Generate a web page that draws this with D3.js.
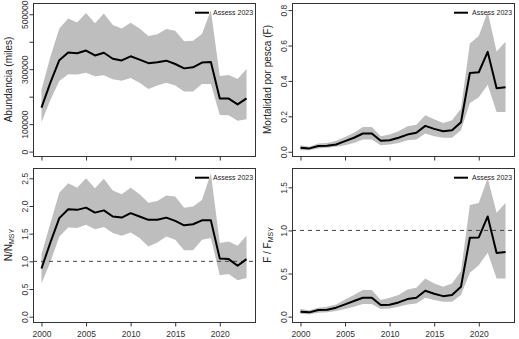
<!DOCTYPE html>
<html>
<head>
<meta charset="utf-8">
<script src="https://cdn.jsdelivr.net/npm/d3@7"></script>
<style>
  body { margin: 0; background: #fff; }
  svg { display: block; font-family: "Liberation Sans", Arial, sans-serif; }
</style>
</head>
<body>
<svg id="chart" width="519" height="339"></svg>
<script>
// assessment years
var years = [2000, 2001, 2002, 2003, 2004, 2005, 2006, 2007, 2008, 2009, 2010, 2011,
             2012, 2013, 2014, 2015, 2016, 2017, 2018, 2019, 2020, 2021, 2022, 2023];

// abundance (thousands) with interval
var abund   = [160000, 251000, 333000, 361000, 358000, 368000, 350000, 360000, 338000, 332000, 347000, 335000,
               322000, 325000, 331000, 319000, 303000, 307000, 324000, 326000, 193000, 193000, 172000, 194000];
var abundLo = [107000, 188000, 257000, 282000, 281000, 287000, 274000, 278000, 263000, 258000, 268000, 251000,
               228000, 241000, 251000, 241000, 219000, 219000, 246000, 246000, 133000, 132000, 112000, 118000];
var abundHi = [224000, 345000, 448000, 485000, 470000, 505000, 467000, 503000, 461000, 448000, 469000, 448000,
               421000, 427000, 446000, 440000, 402000, 404000, 428000, 515000, 275000, 279000, 264000, 301000];

// fishing mortality F
var fMort   = [0.022, 0.019, 0.032, 0.034, 0.041, 0.060, 0.079, 0.103, 0.103, 0.062, 0.065, 0.079,
               0.097, 0.107, 0.146, 0.129, 0.116, 0.121, 0.166, 0.445, 0.449, 0.564, 0.359, 0.364];
var fMortLo = [0.009, 0.009, 0.019, 0.022, 0.028, 0.037, 0.050, 0.069, 0.069, 0.037, 0.041, 0.050,
               0.065, 0.069, 0.103, 0.088, 0.079, 0.079, 0.121, 0.275, 0.308, 0.378, 0.224, 0.224];
var fMortHi = [0.037, 0.028, 0.047, 0.050, 0.062, 0.084, 0.107, 0.140, 0.140, 0.088, 0.097, 0.116,
               0.144, 0.153, 0.206, 0.183, 0.163, 0.178, 0.243, 0.611, 0.654, 0.790, 0.566, 0.621];

// N / N_MSY
var nRel    = [0.87, 1.34, 1.78, 1.94, 1.93, 1.97, 1.88, 1.92, 1.81, 1.79, 1.87, 1.81,
               1.75, 1.75, 1.79, 1.73, 1.65, 1.67, 1.74, 1.74, 1.05, 1.04, 0.92, 1.04];
var nRelLo  = [0.60, 0.99, 1.45, 1.61, 1.60, 1.66, 1.58, 1.62, 1.51, 1.46, 1.52, 1.42,
               1.27, 1.34, 1.45, 1.39, 1.20, 1.20, 1.39, 1.42, 0.75, 0.77, 0.66, 0.70];
var nRelHi  = [1.13, 1.69, 2.24, 2.41, 2.33, 2.50, 2.32, 2.49, 2.28, 2.21, 2.33, 2.21,
               2.06, 2.09, 2.19, 2.17, 1.97, 1.99, 2.11, 2.59, 1.33, 1.36, 1.28, 1.46];

// F / F_MSY
var fRel    = [0.058, 0.050, 0.077, 0.081, 0.104, 0.142, 0.181, 0.219, 0.219, 0.135, 0.138, 0.165,
               0.204, 0.219, 0.300, 0.265, 0.238, 0.250, 0.346, 0.915, 0.919, 1.162, 0.738, 0.750];
var fRelLo  = [0.031, 0.027, 0.046, 0.050, 0.065, 0.088, 0.115, 0.146, 0.146, 0.088, 0.096, 0.115,
               0.142, 0.154, 0.219, 0.192, 0.173, 0.173, 0.250, 0.508, 0.596, 0.742, 0.442, 0.442];
var fRelHi  = [0.088, 0.073, 0.104, 0.115, 0.142, 0.200, 0.250, 0.308, 0.308, 0.192, 0.219, 0.250,
               0.315, 0.335, 0.442, 0.385, 0.346, 0.385, 0.527, 1.296, 1.319, 1.604, 1.204, 1.319];

// ticks
var xTicks      = [2000, 2005, 2010, 2015, 2020];
var abundTicks  = [0, 100000, 200000, 300000, 400000, 500000];
var abundLabels = [0, 100000, 300000, 500000];
var fMortTicks  = [0, 0.2, 0.4, 0.6, 0.8];
var nRelTicks   = [0, 0.5, 1, 1.5, 2, 2.5];
var fRelTicks   = [0, 0.5, 1, 1.5];
var legendText  = "Assess 2023";

var svg = d3.select("#chart");

var cols = [[33, 255], [292, 514]];
var rows = [[3, 156], [168, 322]];
var xDomain = [1999.05, 2023.95];

var panels = [
  {col: 0, row: 0, mid: abund, lo: abundLo, hi: abundHi, yDomain: [-16000, 541000],
   yTicks: abundTicks, yShow: abundLabels, fmt: d3.format("d"), title: ["Abundancia (miles)"]},
  {col: 1, row: 0, mid: fMort, lo: fMortLo, hi: fMortHi, yDomain: [-0.024, 0.84],
   yTicks: fMortTicks, yShow: fMortTicks, fmt: d3.format(".1f"), title: ["Mortalidad por pesca (F)"]},
  {col: 0, row: 1, mid: nRel, lo: nRelLo, hi: nRelHi, yDomain: [-0.096, 2.686], ref: 1,
   yTicks: nRelTicks, yShow: nRelTicks, fmt: d3.format(".1f"), title: ["N/N", "MSY"]},
  {col: 1, row: 1, mid: fRel, lo: fRelLo, hi: fRelHi, yDomain: [-0.062, 1.724], ref: 1,
   yTicks: fRelTicks, yShow: fRelTicks, fmt: d3.format(".1f"), title: ["F / F", "MSY"]}
];

panels.forEach(function(p) {
  var left = cols[p.col][0], right = cols[p.col][1];
  var top = rows[p.row][0], bottom = rows[p.row][1];

  var x = d3.scaleLinear().domain(xDomain).range([left, right]);
  var y = d3.scaleLinear().domain(p.yDomain).range([bottom, top]);

  var g = svg.append("g");

  // confidence band
  var band = d3.area()
    .x(function(d) { return x(d); })
    .y0(function(d, i) { return y(p.lo[i]); })
    .y1(function(d, i) { return y(p.hi[i]); });
  g.append("path")
    .datum(years)
    .attr("d", band)
    .attr("fill", "#bebebe");

  // reference level
  if (p.ref != null) {
    g.append("line")
      .attr("x1", left).attr("x2", right)
      .attr("y1", y(p.ref)).attr("y2", y(p.ref))
      .attr("stroke", "#444")
      .attr("stroke-width", 1)
      .attr("stroke-dasharray", "4,4");
  }

  // estimate
  var line = d3.line()
    .x(function(d) { return x(d); })
    .y(function(d, i) { return y(p.mid[i]); });
  g.append("path")
    .datum(years)
    .attr("d", line)
    .attr("fill", "none")
    .attr("stroke", "#000")
    .attr("stroke-width", 2)
    .attr("stroke-linejoin", "round");

  // frame
  g.append("rect")
    .attr("x", left + 0.5).attr("y", top + 0.5)
    .attr("width", right - left).attr("height", bottom - top)
    .attr("fill", "none")
    .attr("stroke", "#333")
    .attr("stroke-width", 1);

  // y axis, labels turned vertical
  var yAxis = g.append("g")
    .attr("transform", "translate(" + (left + 0.5) + ",0)")
    .call(d3.axisLeft(y)
      .tickValues(p.yTicks)
      .tickSize(4)
      .tickSizeOuter(0)
      .tickFormat(function(d) { return p.yShow.indexOf(d) >= 0 ? p.fmt(d) : ""; }));
  yAxis.select(".domain").remove();
  yAxis.attr("font-family", null).attr("font-size", 8.5).attr("color", "#333");
  yAxis.selectAll("text")
    .attr("x", 0).attr("dy", 0)
    .attr("text-anchor", "middle")
    .attr("transform", "translate(-6,0) rotate(-90)")
    .attr("fill", "#333");

  // x axis
  var xAxis = g.append("g")
    .attr("transform", "translate(0," + (bottom + 0.5) + ")")
    .call(d3.axisBottom(x)
      .tickValues(xTicks)
      .tickSize(4)
      .tickSizeOuter(0)
      .tickFormat(p.row == 1 ? d3.format("d") : function() { return ""; }));
  xAxis.select(".domain").remove();
  xAxis.attr("font-family", null).attr("font-size", 8.5).attr("color", "#333");
  xAxis.selectAll("text")
    .attr("y", 14.5).attr("dy", 0)
    .attr("fill", "#333");

  // axis title
  var title = g.append("text")
    .attr("transform", "translate(" + (left - 21.5) + "," + ((top + bottom) / 2) + ") rotate(-90)")
    .attr("text-anchor", "middle")
    .attr("font-size", 10)
    .attr("fill", "#222");
  title.append("tspan").text(p.title[0]);
  if (p.title[1]) {
    title.append("tspan")
      .attr("font-size", 7)
      .attr("dy", 2.5)
      .text(p.title[1]);
  }

  // legend
  var ly = top + 9.7;
  g.append("line")
    .attr("x1", right - 60).attr("x2", right - 46)
    .attr("y1", ly).attr("y2", ly)
    .attr("stroke", "#000")
    .attr("stroke-width", 2);
  g.append("text")
    .attr("x", right - 42).attr("y", ly)
    .attr("dy", "0.35em")
    .attr("font-size", 7)
    .attr("fill", "#222")
    .text(legendText);
});
</script>
</body>
</html>
